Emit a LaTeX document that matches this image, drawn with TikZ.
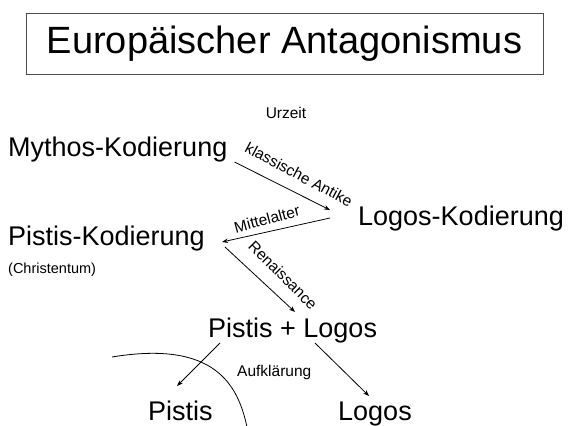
\documentclass[tikz,border=0pt]{standalone}
\usepackage{fontspec}
\setmainfont{Liberation Sans}
\usetikzlibrary{arrows.meta}
\begin{document}
\begin{tikzpicture}[x=1pt,y=-1pt,
  big/.style={inner sep=0pt, font=\fontsize{27}{30}\selectfont, anchor=base west},
  small/.style={inner sep=0pt, font=\fontsize{15.5}{18}\selectfont},
  arr/.style={draw, line width=0.8pt, -{Stealth[length=6pt,width=4.5pt]}},
  lab/.style={font=\fontsize{15.5}{18}\selectfont, inner sep=0pt}]
\path[use as bounding box] (0,0) rectangle (571,426);
\node[draw=black!70, line width=1pt, minimum width=517pt, minimum height=61pt,
      font=\fontsize{38}{42}\selectfont, inner sep=0pt] (title) at (284.5,43.5) {Europäischer Antagonismus};
\node[small, anchor=base] (urz) at (286,118) {Urzeit};
\node[big] (myth) at (8,156) {Mythos-Kodierung};
\node[big] (logk) at (358,225) {Logos-Kodierung};
\node[big] (pk) at (8,245) {Pistis-Kodierung};
\node[small, anchor=base west, font=\fontsize{14.5}{17}\selectfont] (chr) at (8,273) {(Christentum)};
\node[big] (pl) at (208,337) {Pistis + Logos};
\node[small, anchor=base west] (aufk) at (237,376) {Aufklärung};
\node[big] (pis) at (148,420) {Pistis};
\node[big] (log) at (338,420) {Logos};
\draw[arr] ([shift={(7,6)}]myth.base east) -- ([shift={(-28,-15)}]logk.base west);
\draw[arr] ([shift={(-28,-7)}]logk.base west) -- ([shift={(17,-3)}]pk.base east);
\draw[arr] ([shift={(20,2)}]pk.base east) -- ([shift={(87,-25)}]pl.base west);
\draw[arr] ([shift={(12,6)}]pl.base west) -- ([shift={(29,-34)}]pis.base west);
\draw[arr] ([shift={(107,6)}]pl.base west) -- ([shift={(31,-24)}]log.base west);
\node[lab, rotate=-28] (lka) at (299,174.5) {klassische Antike};
\node[lab, rotate=15] (lma) at (267,219) {Mittelalter};
\node[lab, rotate=-45] (lre) at (283,275) {Renaissance};
\draw[line width=0.8pt] (112,357) .. controls (215,340) and (238,385) .. (247,427);
\end{tikzpicture}
\end{document}
